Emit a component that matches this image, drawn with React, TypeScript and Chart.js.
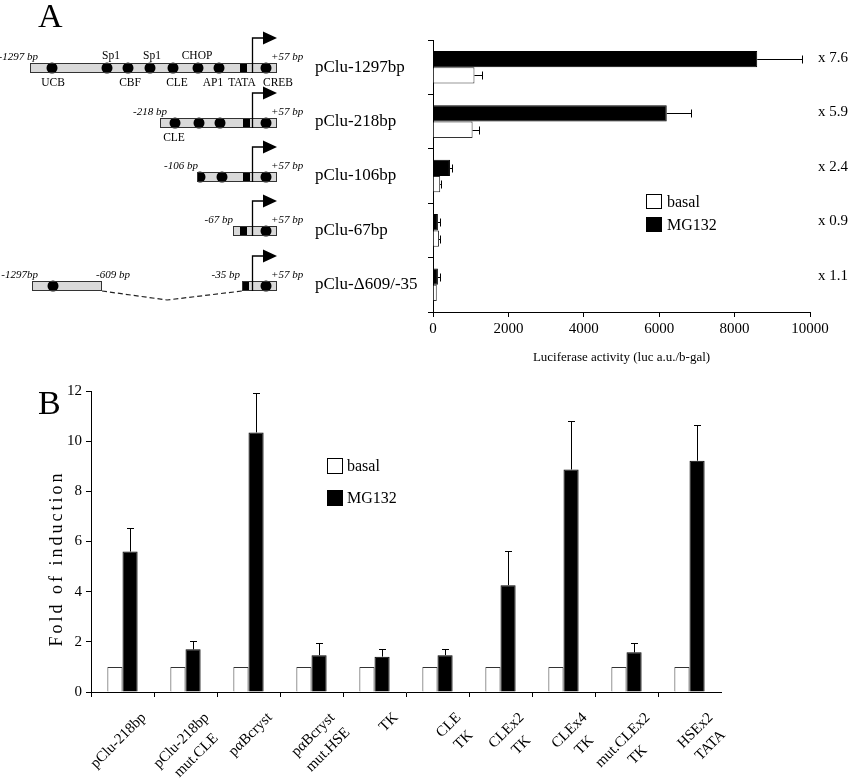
import React, { useEffect, useRef } from "react";
import { Chart, registerables } from "chart.js";

Chart.register(...registerables);

const FONT = "'Liberation Serif', 'Times New Roman', Times, serif";
Chart.defaults.font.family = FONT;
Chart.defaults.color = "#000";

// ---------------- Panel A data ----------------
const constructLabels = ["pClu-1297bp", "pClu-218bp", "pClu-106bp", "pClu-67bp", "pClu-Δ609/-35"];
const lucMG132 = [8600, 6200, 450, 130, 130];
const lucMG132Err = [1200, 650, 50, 60, 60];
const lucBasal = [1100, 1050, 190, 160, 100];
const lucBasalErr = [200, 170, 30, 25, 0];
const foldLabelsA = [7.6, 5.9, 2.4, 0.9, 1.1];
const lucAxisMin = 0;
const lucAxisMax = 10000;
const lucAxisStep = 2000;

// promoter schematic (schematic units along the drawing)
const diagramBoxes: number[][][] = [[[30, 277]], [[160, 277]], [[197, 277]], [[233, 277]], [[32, 102], [242, 277]]];
const diagramSites: number[][] = [
  [52, 107, 128, 150, 173, 198, 219, 266],
  [175, 199, 220, 266],
  [200, 222, 266],
  [266],
  [53, 266],
];
const diagramTata = [240, 243, 243, 240, 242];
const diagramStart = 252;
const diagramEnd = 277;
const diagramEndLabels: [string, number, CanvasTextAlign][][] = [
  [["-1297 bp", 38, "right"], ["+57 bp", 271, "left"]],
  [["-218 bp", 167, "right"], ["+57 bp", 271, "left"]],
  [["-106 bp", 198, "right"], ["+57 bp", 271, "left"]],
  [["-67 bp", 233, "right"], ["+57 bp", 271, "left"]],
  [["-1297bp", 38, "right"], ["-609 bp", 130, "right"], ["-35 bp", 240, "right"], ["+57 bp", 271, "left"]],
];
const siteLabelsAbove: [string, number][][] = [[["Sp1", 111], ["Sp1", 152], ["CHOP", 197]], [], [], [], []];
const siteLabelsBelow: [string, number][][] = [
  [["UCB", 53], ["CBF", 130], ["CLE", 177], ["AP1", 213], ["TATA", 242], ["CREB", 278]],
  [["CLE", 174]],
  [],
  [],
  [],
];
const deletionGap: number[][] = [[], [], [], [], [102, 167, 242]];

// ---------------- Panel B data ----------------
const reporterLabels: string[][] = [
  ["pClu-218bp"],
  ["pClu-218bp", "mut.CLE"],
  ["pαBcryst"],
  ["pαBcryst", "mut.HSE"],
  ["TK"],
  ["CLE", "TK"],
  ["CLEx2", "TK"],
  ["CLEx4", "TK"],
  ["mut.CLEx2", "TK"],
  ["HSEx2", "TATA"],
];
const foldBasal = [1, 1, 1, 1, 1, 1, 1, 1, 1, 1];
const foldMG132 = [5.6, 1.7, 10.35, 1.47, 1.41, 1.47, 4.26, 8.87, 1.58, 9.22];
const foldMG132Err = [0.92, 0.33, 1.56, 0.47, 0.32, 0.23, 1.37, 1.93, 0.38, 1.41];
const foldAxisMax = 12;
const foldAxisStep = 2;

// ---------------- plugins ----------------
const errorBarPlugin = {
  id: "errorBars",
  afterDatasetsDraw(chart: any) {
    const ctx = chart.ctx;
    const horizontal = chart.options.indexAxis === "y";
    chart.data.datasets.forEach((ds: any, di: number) => {
      const errs = ds.errors;
      if (!errs) return;
      const meta = chart.getDatasetMeta(di);
      const vScale = horizontal ? chart.scales.x : chart.scales.y;
      meta.data.forEach((el: any, i: number) => {
        const e = errs[i];
        if (!e) return;
        const end = Math.round(vScale.getPixelForValue(ds.data[i] + e)) + 0.5;
        const p = el.getProps(["x", "y", "width", "height"], true);
        ctx.save();
        ctx.strokeStyle = "#000";
        ctx.lineWidth = 1;
        ctx.beginPath();
        if (horizontal) {
          const y = Math.round(p.y) + 0.5;
          const cap = 4;
          ctx.moveTo(p.x, y);
          ctx.lineTo(end, y);
          ctx.moveTo(end, y - cap);
          ctx.lineTo(end, y + cap);
        } else {
          const x = Math.round(p.x) + 0.5;
          const cap = 3.5;
          ctx.moveTo(x, p.y);
          ctx.lineTo(x, end);
          ctx.moveTo(x - cap, end);
          ctx.lineTo(x + cap, end);
        }
        ctx.stroke();
        ctx.restore();
      });
    });
  },
};

function legendPlugin(order: number[], fx: number, fy: number, dy: number, w: number, h: number, gap: number) {
  return {
    id: "customLegend",
    afterDraw(chart: any) {
      const ctx = chart.ctx;
      const { left, top, width, height } = chart.chartArea;
      const x = Math.round(left + fx * width);
      const y0 = Math.round(top + fy * height);
      order.forEach((di, k) => {
        const ds = chart.data.datasets[di];
        const y = y0 + k * dy;
        ctx.save();
        ctx.fillStyle = ds.backgroundColor;
        ctx.fillRect(x, y, w, h);
        ctx.strokeStyle = "#000";
        ctx.lineWidth = 1;
        ctx.strokeRect(x + 0.5, y + 0.5, w - 1, h - 1);
        ctx.fillStyle = "#000";
        ctx.font = `16px ${FONT}`;
        ctx.textAlign = "left";
        ctx.textBaseline = "middle";
        ctx.fillText(ds.label, x + w + gap, y + h / 2 + 1);
        ctx.restore();
      });
    },
  };
}

function panelLetterPlugin(letter: string, x: number, y: number) {
  return {
    id: "panelLetter",
    afterDraw(chart: any) {
      const ctx = chart.ctx;
      ctx.save();
      ctx.fillStyle = "#000";
      ctx.font = `34px ${FONT}`;
      ctx.textAlign = "left";
      ctx.textBaseline = "alphabetic";
      ctx.fillText(letter, x, y);
      ctx.restore();
    },
  };
}

const foldLabelPlugin = {
  id: "foldLabels",
  afterDraw(chart: any) {
    const ctx = chart.ctx;
    const meta = chart.getDatasetMeta(0);
    ctx.save();
    ctx.fillStyle = "#000";
    ctx.font = `15px ${FONT}`;
    ctx.textAlign = "left";
    ctx.textBaseline = "middle";
    meta.data.forEach((el: any, i: number) => {
      ctx.fillText("x " + foldLabelsA[i].toFixed(1), chart.chartArea.right + 8, el.y - 1);
    });
    ctx.restore();
  },
};

const diagramPlugin = {
  id: "promoterDiagram",
  afterDraw(chart: any) {
    const ctx = chart.ctx;
    const ys = chart.scales.y;
    ctx.save();
    diagramBoxes.forEach((boxes, i) => {
      const cy = Math.round(ys.getPixelForValue(i)) + 1;
      const top = cy - 5;
      const bot = cy + 5;
      const gap = deletionGap[i];
      if (gap.length) {
        ctx.save();
        ctx.strokeStyle = "#222";
        ctx.lineWidth = 1.2;
        ctx.setLineDash([5, 3]);
        ctx.beginPath();
        ctx.moveTo(gap[0], bot);
        ctx.lineTo(gap[1], bot + 9);
        ctx.lineTo(gap[2], bot);
        ctx.stroke();
        ctx.restore();
      }
      boxes.forEach(([a, b]) => {
        ctx.fillStyle = "#d9d9d9";
        ctx.fillRect(a, top, b - a, bot - top);
        ctx.save();
        ctx.beginPath();
        ctx.rect(a, top - 1, b - a, bot - top + 2);
        ctx.clip();
        ctx.fillStyle = "#000";
        ctx.fillRect(diagramTata[i], top, 7, bot - top);
        diagramSites[i].forEach((sx) => {
          ctx.beginPath();
          ctx.ellipse(sx, cy, 5.5, 5.5, 0, 0, Math.PI * 2);
          ctx.fill();
        });
        ctx.restore();
        ctx.strokeStyle = "#333";
        ctx.lineWidth = 1;
        ctx.strokeRect(a + 0.5, top + 0.5, b - a - 1, bot - top - 1);
      });
      const ay = top - 25;
      ctx.strokeStyle = "#000";
      ctx.lineWidth = 1.3;
      ctx.beginPath();
      ctx.moveTo(diagramStart + 0.5, bot);
      ctx.lineTo(diagramStart + 0.5, ay);
      ctx.lineTo(diagramEnd - 14, ay);
      ctx.stroke();
      ctx.fillStyle = "#000";
      ctx.beginPath();
      ctx.moveTo(diagramEnd - 14, ay - 6.5);
      ctx.lineTo(diagramEnd, ay);
      ctx.lineTo(diagramEnd - 14, ay + 6.5);
      ctx.closePath();
      ctx.fill();
      ctx.font = `italic 11px ${FONT}`;
      ctx.textBaseline = "alphabetic";
      diagramEndLabels[i].forEach(([t, x, al]) => {
        ctx.textAlign = al;
        ctx.fillText(t, x, top - 3);
      });
      ctx.font = `11.5px ${FONT}`;
      ctx.textAlign = "center";
      siteLabelsAbove[i].forEach(([t, x]) => ctx.fillText(t, x, top - 4));
      siteLabelsBelow[i].forEach(([t, x]) => ctx.fillText(t, x, bot + 13));
    });
    ctx.restore();
  },
};

const yTitlePlugin = {
  id: "yTitle",
  afterDraw(chart: any) {
    const ctx = chart.ctx;
    const { top, bottom } = chart.chartArea;
    ctx.save();
    ctx.translate(57, (top + bottom) / 2 + 17);
    ctx.rotate(-Math.PI / 2);
    (ctx as any).letterSpacing = "3px";
    ctx.font = `18px ${FONT}`;
    ctx.fillStyle = "#000";
    ctx.textAlign = "center";
    ctx.textBaseline = "middle";
    ctx.fillText("Fold of induction", 0, 0);
    ctx.restore();
  },
};

// category labels of panel B: rotated 45°, lines centred within each label block
const rotatedLabelPlugin = {
  id: "rotatedLabels",
  afterDraw(chart: any) {
    const ctx = chart.ctx;
    const xs = chart.scales.x;
    const baseY = chart.chartArea.bottom + 18;
    ctx.save();
    ctx.font = `15px ${FONT}`;
    ctx.fillStyle = "#000";
    ctx.textBaseline = "top";
    ctx.textAlign = "center";
    (chart.data.labels as string[][]).forEach((lines, i) => {
      const px = xs.getPixelForValue(i) + 16;
      const w = Math.max(...lines.map((l) => ctx.measureText(l).width));
      ctx.save();
      ctx.translate(px, baseY);
      ctx.rotate(-Math.PI / 4);
      lines.forEach((l, j) => ctx.fillText(l, -w / 2, j * 21));
      ctx.restore();
    });
    ctx.restore();
  },
};

// ---------------- configs ----------------
function topConfig(): any {
  return {
    type: "bar",
    data: {
      labels: constructLabels,
      datasets: [
        {
          label: "MG132",
          data: lucMG132,
          errors: lucMG132Err,
          backgroundColor: "#000",
          borderColor: "#000",
          borderWidth: 1,
          categoryPercentage: 0.6,
          barPercentage: 1,
        },
        {
          label: "basal",
          data: lucBasal,
          errors: lucBasalErr,
          backgroundColor: "#fff",
          borderColor: "#333",
          borderWidth: 1,
          categoryPercentage: 0.6,
          barPercentage: 1,
        },
      ],
    },
    options: {
      indexAxis: "y",
      responsive: false,
      animation: false,
      layout: { padding: { left: 315, right: 40, top: 40, bottom: 0 } },
      plugins: { legend: { display: false }, tooltip: { enabled: false } },
      scales: {
        x: {
          min: lucAxisMin,
          max: lucAxisMax,
          ticks: {
            stepSize: lucAxisStep,
            font: { size: 15 },
            color: "#000",
            padding: 3,
            maxRotation: 0,
            callback: (v: any) => String(v),
          },
          grid: { drawOnChartArea: false, tickLength: 5, color: "#000" },
          border: { color: "#000" },
          title: {
            display: true,
            text: "Luciferase activity (luc a.u./b-gal)",
            font: { size: 13 },
            color: "#000",
            padding: { top: 0, bottom: 10 },
          },
          afterFit: (s: any) => {
            s.height = 63;
          },
        },
        y: {
          ticks: { crossAlign: "far", font: { size: 17 }, color: "#000" },
          grid: { drawOnChartArea: false, tickLength: 5, color: "#000", offset: true },
          border: { color: "#000" },
          afterFit: (s: any) => {
            s.width = 118;
          },
        },
      },
    },
    plugins: [
      errorBarPlugin,
      legendPlugin([1, 0], 0.565, 0.566, 23, 16, 15, 5),
      panelLetterPlugin("A", 38, 27),
      foldLabelPlugin,
      diagramPlugin,
    ],
  };
}

function bottomConfig(): any {
  return {
    type: "bar",
    data: {
      labels: reporterLabels,
      datasets: [
        {
          label: "basal",
          data: foldBasal,
          backgroundColor: "#fff",
          borderColor: "#333",
          borderWidth: 1,
          categoryPercentage: 0.48,
          barPercentage: 1,
        },
        {
          label: "MG132",
          data: foldMG132,
          errors: foldMG132Err,
          backgroundColor: "#000",
          borderColor: "#000",
          borderWidth: 1,
          categoryPercentage: 0.48,
          barPercentage: 1,
        },
      ],
    },
    options: {
      responsive: false,
      animation: false,
      layout: { padding: { left: 0, right: 129, top: 16, bottom: 0 } },
      plugins: { legend: { display: false }, tooltip: { enabled: false } },
      scales: {
        x: {
          ticks: { display: false, autoSkip: false },
          grid: {
            offset: true,
            drawOnChartArea: false,
            tickLength: 5,
            color: (c: any) => (c.type === "scale" ? "rgba(0,0,0,0)" : "#000"),
          },
          border: { color: "#000" },
          afterFit: (s: any) => {
            s.height = 86;
          },
        },
        y: {
          min: 0,
          max: foldAxisMax,
          ticks: { stepSize: foldAxisStep, font: { size: 15 }, color: "#000", padding: 4 },
          grid: { drawOnChartArea: false, tickLength: 5, color: "#000" },
          border: { color: "#000" },
          afterFit: (s: any) => {
            s.width = 91;
          },
        },
      },
    },
    plugins: [
      errorBarPlugin,
      legendPlugin([0, 1], 0.3746, 0.2226, 32, 16, 16, 4),
      panelLetterPlugin("B", 38, 39),
      yTitlePlugin,
      rotatedLabelPlugin,
    ],
  };
}

export default function App() {
  const topRef = useRef<HTMLCanvasElement>(null);
  const botRef = useRef<HTMLCanvasElement>(null);
  useEffect(() => {
    const c1 = new Chart(topRef.current as HTMLCanvasElement, topConfig());
    const c2 = new Chart(botRef.current as HTMLCanvasElement, bottomConfig());
    return () => {
      c1.destroy();
      c2.destroy();
    };
  }, []);
  return (
    <div style={{ position: "absolute", left: 0, top: 0, width: 850, height: 778, background: "#fff" }}>
      <canvas ref={topRef} width={850} height={375} style={{ position: "absolute", left: 0, top: 0 }} />
      <canvas ref={botRef} width={850} height={403} style={{ position: "absolute", left: 0, top: 375 }} />
    </div>
  );
}
